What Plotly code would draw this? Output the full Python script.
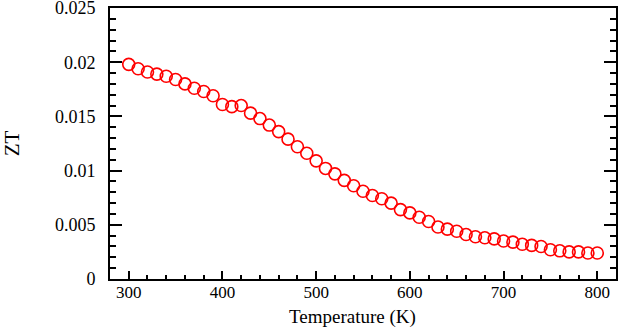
import plotly.graph_objects as go

# ZT vs temperature
temperature = list(range(300, 801, 10))
zt = [
    0.0198, 0.0194, 0.0191, 0.0189, 0.0187, 0.0184, 0.0180, 0.0176, 0.0173, 0.0169,
    0.0161, 0.0159, 0.0160, 0.0153, 0.0148, 0.0142, 0.0136, 0.0129, 0.0122, 0.0116,
    0.0109, 0.0102, 0.0097, 0.0091, 0.0086, 0.0081, 0.0077, 0.0074, 0.0070, 0.0064,
    0.0061, 0.0057, 0.0053, 0.0048, 0.0046, 0.0044, 0.0041, 0.0039, 0.0038, 0.0037,
    0.0035, 0.0034, 0.0032, 0.0031, 0.0030, 0.0027, 0.0026, 0.0025, 0.0025, 0.0024,
    0.0024,
]
x_ticks = [300, 400, 500, 600, 700, 800]
y_ticks = [0, 0.005, 0.01, 0.015, 0.02, 0.025]
y_labels = ["0", "0.005", "0.01", "0.015", "0.02", "0.025"]

serif = "Liberation Serif, Times New Roman, serif"

fig = go.Figure(go.Scatter(
    x=temperature,
    y=zt,
    mode="markers",
    marker=dict(symbol="circle-open", size=12, color="#ff0000",
                line=dict(width=1.6, color="#ff0000")),
    showlegend=False,
))

fig.update_layout(
    width=623,
    height=327,
    margin=dict(l=110, r=7, t=8, b=48, autoexpand=False),
    plot_bgcolor="white",
    paper_bgcolor="white",
    font=dict(family=serif, size=18, color="black"),
    # x title placed by hand so it sits under the tick labels like the original
    annotations=[dict(
        text="Temperature (K)", x=0.48, y=-0.142, xref="paper", yref="paper",
        xanchor="center", yanchor="middle", showarrow=False,
        font=dict(size=19), borderpad=0,
    )],
)

fig.update_xaxes(
    range=[280, 820],
    tickvals=x_ticks,
    ticks="inside", ticklen=8, tickwidth=2, tickcolor="black",
    minor=dict(dtick=20, tick0=300, ticks="inside", ticklen=4, tickwidth=1.5, tickcolor="black"),
    showline=True, linewidth=2, linecolor="black", mirror=True,
    showgrid=False, zeroline=False,
    tickfont=dict(size=17),
    ticklabelstandoff=-3,
)

fig.update_yaxes(
    range=[0, 0.025],
    tickvals=y_ticks, ticktext=y_labels,
    ticks="inside", ticklen=12, tickwidth=2, tickcolor="black",
    minor=dict(dtick=0.001, tick0=0, ticks="inside", ticklen=6, tickwidth=1.5, tickcolor="black"),
    showline=True, linewidth=2, linecolor="black", mirror="ticks",
    showgrid=False, zeroline=False,
    tickfont=dict(size=18),
    ticklabelstandoff=9, ticklabeloverflow="allow",
    title=dict(text="ZT", font=dict(size=21), standoff=34),
)

# the page body has a default margin; drop it so the figure sits at the window corner
fig.write_html("out.html", config={"displayModeBar": False},
               post_script="document.body.style.margin='0';")
